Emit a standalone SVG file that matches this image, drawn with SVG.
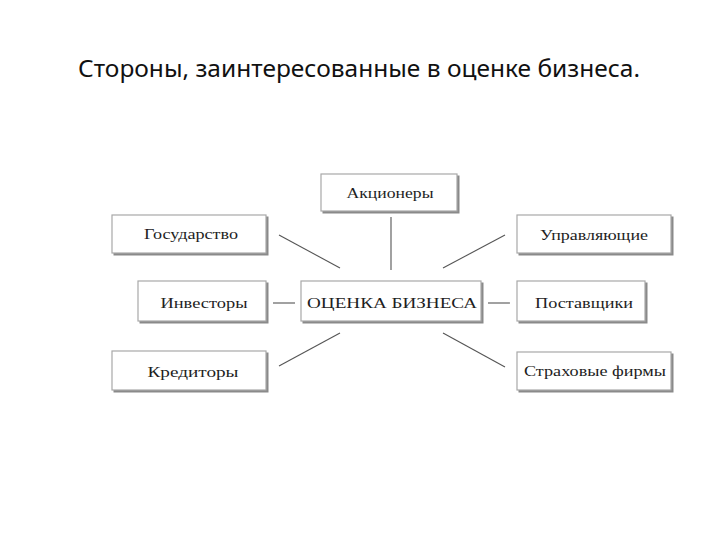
<svg xmlns="http://www.w3.org/2000/svg" width="720" height="540" viewBox="0 0 720 540">
<style>
.bg{fill:#fff}
.sh{fill:#8a8a8a}
.box{fill:#fff;stroke:#a8a8a8;stroke-width:1.2}
.lbl{font-family:"Liberation Serif","Times New Roman",serif;font-size:15px;fill:#1e1e1e;text-anchor:middle}
.title{font-family:"Noto Sans","Open Sans",sans-serif;font-size:24px;fill:#111}
.con line{stroke:#555;stroke-width:1.1}
</style>
<rect class="bg" x="0" y="0" width="720" height="540"/>
<text class="title" x="78" y="77" textLength="562" lengthAdjust="spacingAndGlyphs">Стороны, заинтересованные в оценке бизнеса.</text>
<g id="connectors" class="con">
<line x1="279" y1="235" x2="340" y2="268"/>
<line x1="391" y1="217" x2="391" y2="270"/>
<line x1="505" y1="235" x2="443" y2="268"/>
<line x1="273" y1="303" x2="295" y2="303"/>
<line x1="488" y1="303" x2="510" y2="303"/>
<line x1="279" y1="366" x2="340" y2="333"/>
<line x1="443" y1="333" x2="505" y2="367"/>
</g>
<g id="akcionery">
<rect class="sh" x="322.5" y="175.5" width="137" height="38"/>
<rect class="box" x="321" y="174" width="136" height="37"/>
<text class="lbl" x="390" y="198" textLength="87" lengthAdjust="spacingAndGlyphs">Акционеры</text>
</g>
<g id="gosudarstvo">
<rect class="sh" x="113.5" y="216.5" width="155" height="39"/>
<rect class="box" x="112" y="215" width="154" height="38"/>
<text class="lbl" x="191" y="239" textLength="94" lengthAdjust="spacingAndGlyphs">Государство</text>
</g>
<g id="upravlyayushchie">
<rect class="sh" x="518.5" y="216.5" width="155" height="39"/>
<rect class="box" x="517" y="215" width="154" height="38"/>
<text class="lbl" x="594" y="240" textLength="108" lengthAdjust="spacingAndGlyphs">Управляющие</text>
</g>
<g id="investory">
<rect class="sh" x="139.5" y="282.5" width="129" height="41"/>
<rect class="box" x="138" y="281" width="128" height="40"/>
<text class="lbl" x="204" y="308" textLength="87" lengthAdjust="spacingAndGlyphs">Инвесторы</text>
</g>
<g id="ocenka">
<rect class="sh" x="302.5" y="282.5" width="181" height="41"/>
<rect class="box" x="301" y="281" width="180" height="40"/>
<text class="lbl" x="392" y="308" textLength="170" lengthAdjust="spacingAndGlyphs">ОЦЕНКА БИЗНЕСА</text>
</g>
<g id="postavshchiki">
<rect class="sh" x="518.5" y="282.5" width="129" height="41"/>
<rect class="box" x="517" y="281" width="128" height="40"/>
<text class="lbl" x="584" y="308" textLength="98" lengthAdjust="spacingAndGlyphs">Поставщики</text>
</g>
<g id="kreditory">
<rect class="sh" x="113.5" y="352.5" width="155" height="40"/>
<rect class="box" x="112" y="351" width="154" height="39"/>
<text class="lbl" x="193" y="377" textLength="91" lengthAdjust="spacingAndGlyphs">Кредиторы</text>
</g>
<g id="strakhovye">
<rect class="sh" x="518.5" y="353.5" width="155" height="39"/>
<rect class="box" x="517" y="352" width="154" height="38"/>
<text class="lbl" x="595" y="376" textLength="142" lengthAdjust="spacingAndGlyphs">Страховые фирмы</text>
</g>
</svg>
